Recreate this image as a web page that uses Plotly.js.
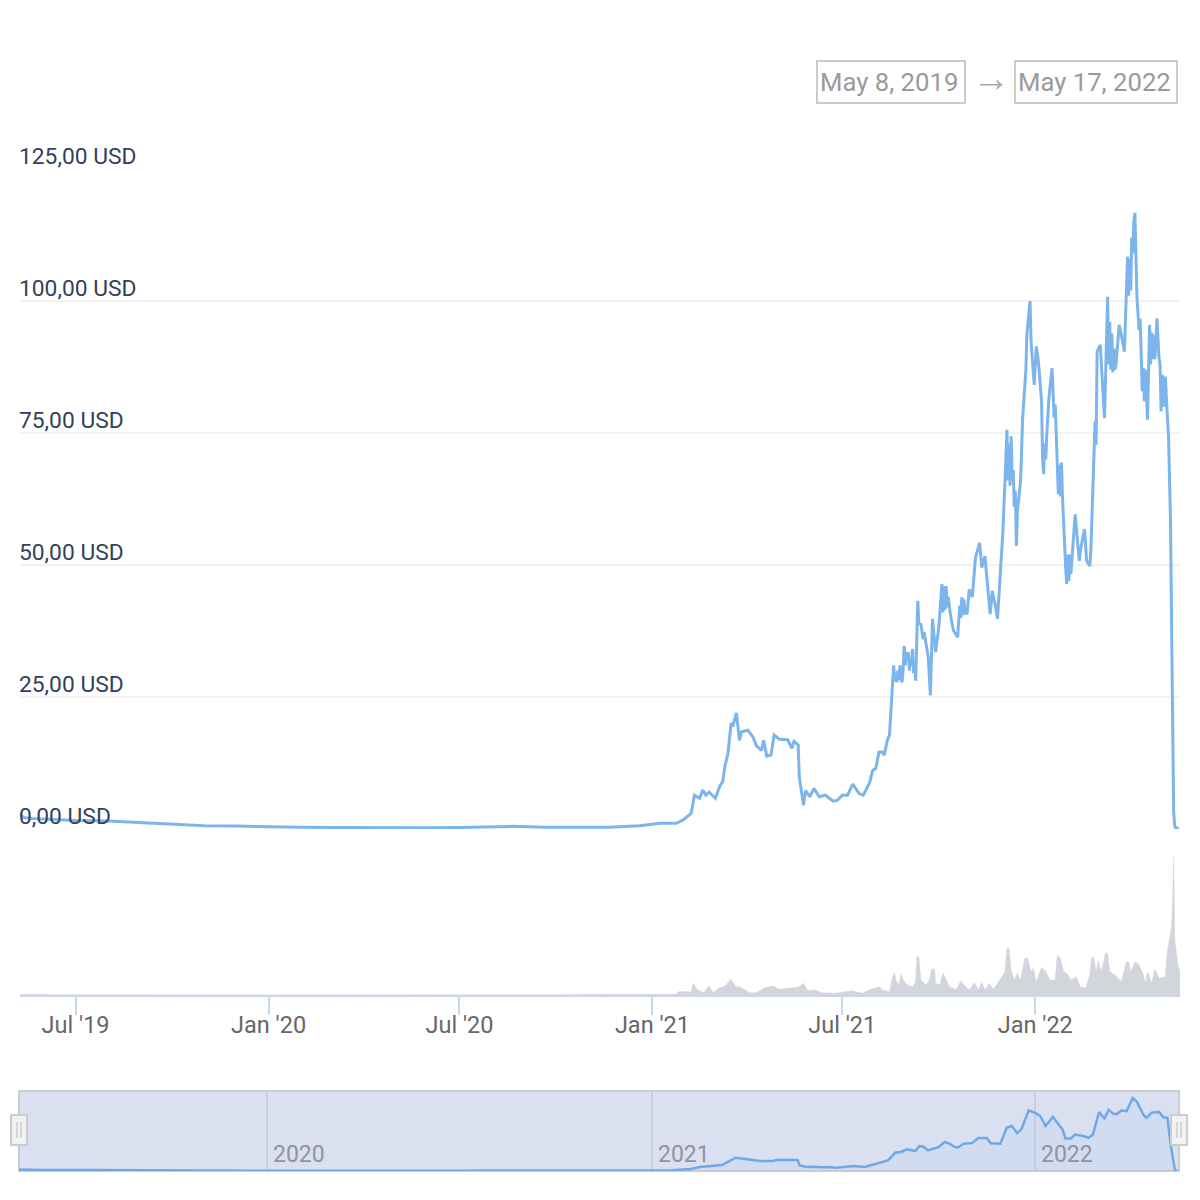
<!DOCTYPE html>
<html><head><meta charset="utf-8">
<script src="https://cdn.plot.ly/plotly-3.0.1.min.js"></script>
<style>html,body{margin:0;padding:0;background:#fff}#c{width:1200px;height:1200px}</style>
</head><body><div id="c"></div>
<script>
const priceDates = ["2019-05-08","2019-05-12","2019-05-20","2019-06-10","2019-07-01","2019-08-01","2019-09-01","2019-10-01","2019-11-01","2019-12-01","2020-01-01","2020-02-01","2020-03-01","2020-04-01","2020-05-01","2020-06-01","2020-07-01","2020-08-01","2020-08-20","2020-09-20","2020-10-20","2020-11-20","2020-12-20",
"2021-01-08","2021-01-24","2021-01-31","2021-02-07","2021-02-10","2021-02-15","2021-02-18","2021-02-21","2021-02-24","2021-03-02","2021-03-06","2021-03-09","2021-03-11","2021-03-14","2021-03-17","2021-03-19","2021-03-22","2021-03-25","2021-03-27","2021-04-02","2021-04-07","2021-04-10","2021-04-15","2021-04-17","2021-04-20","2021-04-24","2021-04-27","2021-05-02","2021-05-10","2021-05-14","2021-05-16","2021-05-20","2021-05-21","2021-05-25","2021-05-27","2021-05-31","2021-06-04","2021-06-09","2021-06-15","2021-06-22","2021-06-26","2021-07-01","2021-07-06","2021-07-11","2021-07-17","2021-07-21","2021-07-27","2021-07-30","2021-08-02","2021-08-05","2021-08-08","2021-08-10","2021-08-13","2021-08-15","2021-08-18","2021-08-19","2021-08-20","2021-08-21","2021-08-22","2021-08-23","2021-08-24","2021-08-25","2021-08-26","2021-08-27","2021-08-28","2021-08-29","2021-08-30","2021-08-31","2021-09-01","2021-09-02","2021-09-03","2021-09-04","2021-09-05","2021-09-06","2021-09-07","2021-09-08","2021-09-09","2021-09-11","2021-09-12","2021-09-14","2021-09-16","2021-09-17","2021-09-21","2021-09-23","2021-09-25","2021-09-28","2021-10-01","2021-10-04","2021-10-05","2021-10-06","2021-10-07","2021-10-08","2021-10-09","2021-10-10","2021-10-12","2021-10-15","2021-10-19","2021-10-21","2021-10-22","2021-10-23","2021-10-24","2021-10-25","2021-10-26","2021-10-28","2021-10-30","2021-11-02","2021-11-05","2021-11-09","2021-11-11","2021-11-14","2021-11-19","2021-11-21","2021-11-24","2021-11-26","2021-11-29","2021-12-01","2021-12-03","2021-12-04","2021-12-05","2021-12-06","2021-12-07","2021-12-08","2021-12-09","2021-12-10","2021-12-11","2021-12-12","2021-12-13","2021-12-14","2021-12-15","2021-12-18","2021-12-20","2021-12-23","2021-12-24","2021-12-27","2021-12-28","2021-12-31","2022-01-02","2022-01-04","2022-01-07","2022-01-08","2022-01-09","2022-01-10","2022-01-11","2022-01-12","2022-01-14","2022-01-17","2022-01-19","2022-01-20","2022-01-23","2022-01-24","2022-01-25","2022-01-26","2022-01-27","2022-01-30","2022-01-31","2022-02-01","2022-02-02","2022-02-03","2022-02-04","2022-02-08","2022-02-12","2022-02-13","2022-02-17","2022-02-19","2022-02-22","2022-02-23","2022-02-25","2022-02-27","2022-02-28","2022-03-01","2022-03-04","2022-03-06","2022-03-08","2022-03-11","2022-03-12","2022-03-13","2022-03-14","2022-03-15","2022-03-16","2022-03-17","2022-03-18","2022-03-19","2022-03-22","2022-03-24","2022-03-27","2022-03-30","2022-03-31","2022-04-01","2022-04-02","2022-04-03","2022-04-04","2022-04-05","2022-04-06","2022-04-08","2022-04-10","2022-04-11","2022-04-13","2022-04-14","2022-04-15","2022-04-16","2022-04-17","2022-04-18","2022-04-20","2022-04-21","2022-04-22","2022-04-23","2022-04-24","2022-04-25","2022-04-26","2022-04-27","2022-04-29","2022-04-30","2022-05-01","2022-05-02","2022-05-03","2022-05-04","2022-05-05","2022-05-06","2022-05-07","2022-05-08","2022-05-09","2022-05-10","2022-05-11","2022-05-12","2022-05-13","2022-05-14","2022-05-15","2022-05-18"];
const priceValues = [3.0,2.2,2.0,1.8,1.6,1.5,1.2,0.8,0.6,0.55,0.4,0.35,0.3,0.25,0.3,0.25,0.3,0.4,0.5,0.35,0.3,0.35,0.6,
1.07,1.07,1.8,3.0,6.4,5.8,7.4,6.4,7.0,5.8,8.0,9.0,11.8,14.3,20,19.7,22,16.8,18.4,18.7,17.4,15.8,14.9,16.8,13.8,14.0,17.8,17.0,16.9,15.3,16.6,15.9,9.9,4.5,7.3,6.1,7.7,6.1,6.4,5.3,5.4,6.4,6.4,8.5,6.7,6.4,8.7,11.1,11.5,14.6,14.6,14.0,16.8,17.8,26.3,31,28,29.5,27.8,30,28.2,31,28.5,27.8,30,34.7,31,33.5,32.2,33.5,30,32.2,31,34.1,29.5,31,28.1,43.2,39,38.8,36,37.3,32.5,25.3,39.8,33.5,38.2,46.4,41,46,41.5,46,42,44,40.7,37.6,36.3,42.3,40,43.9,40.5,43.5,41,40.7,45.4,43.9,51.4,54.2,49.5,51.7,40.7,45.1,42.3,39.8,49.5,55.8,65.3,70,75.6,66,73,65,74.4,66,68,61,64,53.6,60.2,65.9,77.9,86.7,93.6,100,92.3,84.1,91.4,88.5,81,70,67.2,73,70,74.7,81.6,87.3,77.9,80.4,63.4,69,63,69.4,62.7,49.5,46.4,52,47,52,48.3,59.6,50.8,52.7,56.8,50.8,49.8,52.7,65.3,77.2,72.8,90.4,91.7,85.4,77.8,100.8,88,96,87,93.9,86.5,91,87,87.9,95.5,93.6,90.4,108.4,101,108,102,112,109,115,116.7,100.5,94.5,96.7,82.9,87.3,81,87,80,77.5,95.5,88,94,89,93.6,89,92,96.7,89.2,87.9,79.1,86,84.1,80,85.7,80,78,74.7,68,58,38,15,3,0.6,0.2,0.02];

const volumeDates = ["2019-05-08","2019-05-25","2019-06-10","2019-07-10","2020-01-01","2020-08-01","2020-12-30","2021-01-23","2021-01-26","2021-02-07","2021-02-09","2021-02-13","2021-02-19","2021-02-24","2021-02-28","2021-03-05","2021-03-11","2021-03-17","2021-03-21","2021-03-26","2021-04-04","2021-04-10","2021-04-17","2021-04-26","2021-05-02","2021-05-10","2021-05-20","2021-05-25","2021-05-29","2021-06-05","2021-06-11","2021-06-24","2021-07-10","2021-07-20","2021-07-28",
"2021-08-06","2021-08-08","2021-08-15","2021-08-18","2021-08-20","2021-08-21","2021-08-24","2021-08-26","2021-08-28","2021-09-01","2021-09-06","2021-09-09","2021-09-10","2021-09-12","2021-09-14","2021-09-19","2021-09-22","2021-09-24","2021-09-27","2021-09-28","2021-10-02","2021-10-05","2021-10-07","2021-10-11","2021-10-18","2021-10-22","2021-10-25","2021-10-30","2021-11-04","2021-11-08","2021-11-11","2021-11-14","2021-11-18","2021-11-22","2021-11-28","2021-12-03","2021-12-05","2021-12-07","2021-12-09","2021-12-12","2021-12-15","2021-12-18","2021-12-22","2021-12-25","2021-12-26","2021-12-28","2021-12-30","2022-01-02","2022-01-07","2022-01-11","2022-01-15","2022-01-20","2022-01-22","2022-01-25","2022-01-28","2022-01-31","2022-02-04","2022-02-09","2022-02-13","2022-02-18","2022-02-22","2022-02-24","2022-02-26","2022-02-28","2022-03-02","2022-03-05","2022-03-09","2022-03-11","2022-03-13","2022-03-18","2022-03-24","2022-03-29","2022-03-31","2022-04-02","2022-04-06","2022-04-09","2022-04-13","2022-04-16","2022-04-18","2022-04-22","2022-04-25","2022-04-29","2022-05-05","2022-05-07","2022-05-09","2022-05-11","2022-05-12","2022-05-13","2022-05-14","2022-05-17","2022-05-19"];
const volumeValues = [0.03,0.08,0.03,0.02,0.01,0.02,0.03,0.07,0.33,0.33,1.2,0.5,0.23,0.9,0.23,0.67,0.9,1.57,0.9,0.77,0.23,0.23,0.67,0.9,0.57,0.67,0.77,1.17,0.43,0.5,0.23,0.17,0.43,0.17,0.57,
0.83,0.5,0.33,1.83,2.23,1.5,1,2.07,1.5,1,0.83,1.33,3.83,3.83,1.5,1,1.5,2.57,2.57,1.17,1,2.17,1.83,0.83,0.57,1.43,1,0.5,1.23,0.5,1.27,0.5,1.17,0.57,1.5,2.33,4.67,4.67,2.5,1.5,2.17,1.5,3.67,3.67,3.17,2.33,2.67,1.33,2.77,2.33,1.5,1.5,4,3.67,2.33,2.17,1.5,1.83,0.83,0.67,2,3.83,3.67,2.17,3.43,2.33,4.17,4.17,2.33,2,1.33,3.33,3.33,2.33,3.27,3.17,2.33,1.17,2.33,1.17,2.57,1.67,1.83,4.5,5.5,7,9.7,13.8,5.6,3,2.3];

const navDates = ["2019-05-10","2019-06-01","2019-07-15","2019-09-15","2019-11-01","2020-01-01","2020-07-01","2020-12-01","2021-01-20","2021-02-07","2021-02-16","2021-03-09","2021-03-22","2021-03-31","2021-04-14","2021-04-26","2021-05-02","2021-05-20","2021-05-22","2021-05-29","2021-06-06","2021-06-11","2021-06-19","2021-06-26","2021-07-06","2021-07-12","2021-07-23","2021-08-02","2021-08-14","2021-08-21","2021-08-27","2021-09-01","2021-09-09","2021-09-13","2021-09-17","2021-09-21","2021-10-01","2021-10-07","2021-10-11","2021-10-17","2021-10-20","2021-10-25","2021-11-02","2021-11-08","2021-11-16","2021-11-20","2021-11-29","2021-12-05","2021-12-10","2021-12-15","2021-12-19","2021-12-26","2022-01-02","2022-01-06","2022-01-11","2022-01-18","2022-01-24","2022-01-27","2022-01-30","2022-02-04","2022-02-08","2022-02-16","2022-02-21","2022-02-25","2022-03-03","2022-03-08","2022-03-12","2022-03-17","2022-03-20","2022-03-24","2022-03-29","2022-04-04","2022-04-08","2022-04-14","2022-04-17","2022-04-22","2022-04-29","2022-05-03","2022-05-07","2022-05-10","2022-05-14","2022-05-16"];
const navValues = [2.2,1.5,1.4,1,0.7,0.5,0.5,0.6,1.2,3,6,9,20,18,15,15,17,16.5,8.5,6,6.5,5.5,6,5,6,7.5,6,11,16,27.6,29,32.6,30,37.6,36.6,31,36,43.7,41.7,35.6,35.6,41,42,49.7,49.7,41.7,41,65,67.8,57,62.8,91.4,86.8,82.8,67.8,81.8,67.8,62.8,49,49,55,52.7,50,55,88.9,79,92,86,86,91,90,110,104,85,80,88,89,81,80,40,2.5,1];

const xTickDates = ["2019-07-01","2020-01-01","2020-07-01","2021-01-01","2021-07-01","2022-01-01"];
const xTickLabels = ["Jul '19","Jan '20","Jul '20","Jan '21","Jul '21","Jan '22"];
const yTickValues = [0,25,50,75,100,125];
const yTickLabels = ["0,00 USD","25,00 USD","50,00 USD","75,00 USD","100,00 USD","125,00 USD"];
const navTickDates = ["2020-01-01","2021-01-01","2022-01-01"];
const navTickLabels = ["2020","2021","2022"];
const rangeStart = "May 8, 2019";
const rangeEnd = "May 17, 2022";

const H = 1200;
const fy = p => 1 - p / H;
const fx = p => p / H;
const font = "Roboto, 'Open Sans', sans-serif";

const traces = [
  {x: priceDates, y: priceValues, xaxis: 'x', yaxis: 'y', mode: 'lines', line: {color: '#7cb5ec', width: 3}, hoverinfo: 'x+y'},
  {x: volumeDates, y: volumeValues, xaxis: 'x', yaxis: 'y2', mode: 'lines', line: {color: '#d2d5db', width: 0.5}, fill: 'tozeroy', fillcolor: '#d2d5db', hoverinfo: 'x+y'},
  {x: navDates, y: navValues, xaxis: 'x2', yaxis: 'y3', mode: 'lines', line: {color: '#6fa8e6', width: 2.5}, fill: 'tozeroy', fillcolor: 'rgba(124,181,236,0.08)', hoverinfo: 'x+y'}
];

const handle = (l, r) => [
  {type: 'rect', xref: 'paper', yref: 'paper', x0: fx(l), x1: fx(r), y0: fy(1145), y1: fy(1115), fillcolor: '#f2f2f2', line: {color: '#cccccc', width: 2}, layer: 'above'},
  {type: 'line', xref: 'paper', yref: 'paper', x0: fx((l+r)/2 - 2), x1: fx((l+r)/2 - 2), y0: fy(1138), y1: fy(1122), line: {color: '#cccccc', width: 1.5}, layer: 'above'},
  {type: 'line', xref: 'paper', yref: 'paper', x0: fx((l+r)/2 + 2), x1: fx((l+r)/2 + 2), y0: fy(1138), y1: fy(1122), line: {color: '#cccccc', width: 1.5}, layer: 'above'}
];
const boxRect = (l, r) => ({type: 'rect', xref: 'paper', yref: 'paper', x0: fx(l), x1: fx(r), y0: fy(103), y1: fy(61), fillcolor: '#ffffff', line: {color: '#cccccc', width: 2}, layer: 'below'});

const boxAnn = (t, c) => ({xref: 'paper', yref: 'paper', x: fx(c), y: fy(82), xanchor: 'center', yanchor: 'middle', text: t, showarrow: false, font: {family: font, size: 25.7, color: '#9a9a9a'}});

const layout = {
  width: 1200, height: 1200, margin: {l: 0, r: 0, t: 0, b: 0, pad: 0}, showlegend: false,
  paper_bgcolor: '#fff', plot_bgcolor: 'rgba(0,0,0,0)', font: {family: font},
  xaxis: {domain: [fx(20), fx(1180)], anchor: 'y2', type: 'date', range: ['2019-05-09', '2022-05-19'], tickmode: 'array', tickvals: xTickDates, ticktext: xTickLabels, showgrid: false, zeroline: false, showline: true, linecolor: '#ccd6eb', linewidth: 2, ticks: 'outside', ticklen: 18, tickwidth: 2, tickcolor: '#ccd6eb', tickfont: {family: font, size: 23.5, color: '#666666'}, ticklabelstandoff: -10},
  yaxis: {domain: [fy(829), fy(169)], anchor: 'x', range: [0, 125], tickmode: 'array', tickvals: yTickValues, showticklabels: false, showgrid: true, gridcolor: '#f2f2f2', gridwidth: 2, zeroline: false, showline: false, ticks: ''},
  yaxis2: {domain: [fy(995), fy(857)], anchor: 'x', range: [0, 13.8], visible: false, fixedrange: true},
  xaxis2: {domain: [fx(19), fx(1179)], anchor: 'y3', type: 'date', range: ['2019-05-10', '2022-05-18'], tickmode: 'array', tickvals: navTickDates, showticklabels: false, showgrid: true, gridcolor: '#c8cfdf', gridwidth: 2, zeroline: false, showline: false, ticks: ''},
  yaxis3: {domain: [fy(1171), fy(1091)], anchor: 'x2', range: [0, 120.5], visible: false, fixedrange: true},
  shapes: [
    {type: 'rect', xref: 'paper', yref: 'paper', x0: fx(19), x1: fx(1179), y0: fy(1171), y1: fy(1091), fillcolor: '#dae0f0', line: {color: '#cccccc', width: 2}, layer: 'below'},
    ...handle(11, 27), ...handle(1171, 1187),
    boxRect(817, 965), boxRect(1015, 1177)
  ],
  annotations: [
    boxAnn(rangeStart, 889),
    boxAnn(rangeEnd, 1094.5),
    {xref: 'paper', yref: 'paper', x: fx(991), y: fy(78), xanchor: 'center', yanchor: 'middle', text: '→', showarrow: false, font: {family: font, size: 38, color: '#aaaaaa'}},
    ...yTickValues.map((v, i) => ({xref: 'paper', yref: 'y', x: fx(20), y: v, xanchor: 'left', yanchor: 'middle', yshift: 13, xshift: -3, text: yTickLabels[i], showarrow: false, font: {family: font, size: 22.8, color: '#34405a'}})),
    ...navTickDates.map((d, i) => ({xref: 'x2', yref: 'paper', x: d, y: fy(1154), xanchor: 'left', yanchor: 'middle', xshift: 4, text: navTickLabels[i], showarrow: false, font: {family: font, size: 23, color: '#8f93a0'}}))
  ]
};
Plotly.newPlot('c', traces, layout, {displayModeBar: false, responsive: false});
</script></body></html>
